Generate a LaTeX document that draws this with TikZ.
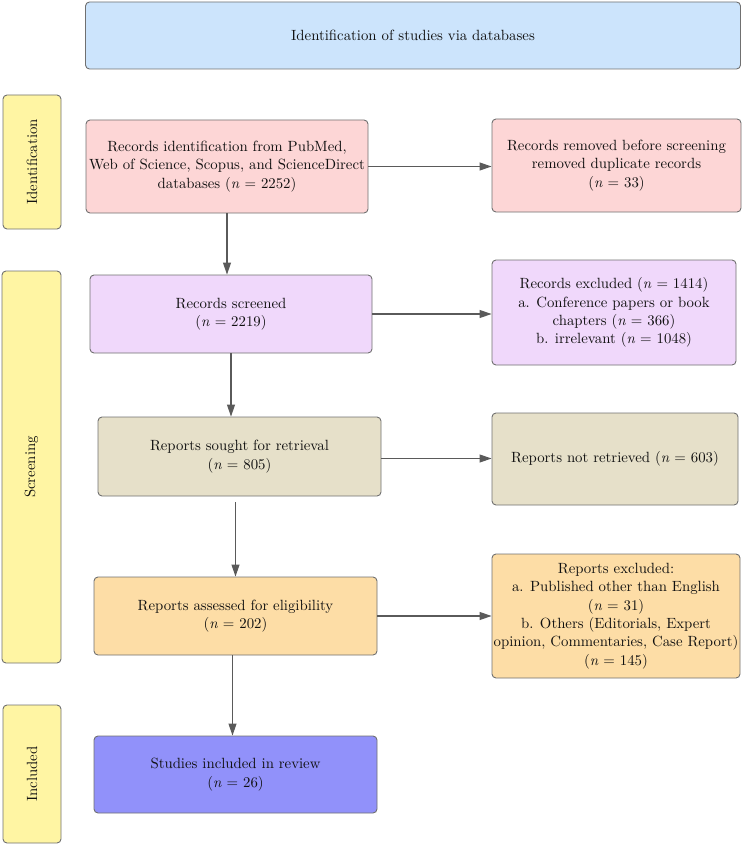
\documentclass[tikz,border=0pt]{standalone}
\usepackage{fontspec}
\setmainfont{lmroman10-regular}[Extension=.otf, ItalicFont=lmroman10-italic, BoldFont=lmroman10-bold]
\usetikzlibrary{arrows.meta}

\definecolor{headblue}{HTML}{CCE4FC}
\definecolor{phaseyellow}{HTML}{FFF5A3}
\definecolor{idpink}{HTML}{FDD6D6}
\definecolor{screenpurple}{HTML}{F0D8FB}
\definecolor{soughtbeige}{HTML}{E6E0C9}
\definecolor{assessorange}{HTML}{FDDDA6}
\definecolor{inclblue}{HTML}{9191FA}
\definecolor{boxline}{HTML}{707070}
\definecolor{arrowgray}{HTML}{5A5A5A}
\definecolor{textcol}{HTML}{101010}

\tikzset{
    stage/.style={draw=boxline, line width=0.9pt, rounded corners=4pt,
        align=center, inner sep=0pt, text=textcol,
        font=\fontsize{14.8}{18.3}\selectfont},
    phase/.style={stage, fill=phaseyellow, rotate=90},
    flow/.style={-{Triangle[length=12pt,width=8pt]}, draw=arrowgray, line width=1.1pt},
}

\begin{document}
\begin{tikzpicture}[x=1pt, y=-1pt]
        \useasboundingbox (0,0) rectangle (742,845);

        \node[stage, fill=headblue, minimum width=655, minimum height=67] (head) at (413,35.5)
            {Identification of studies via databases};

        \node[phase, minimum width=134, minimum height=58] (ident) at (32,162) {Identification};
        \node[phase, minimum width=392, minimum height=59] (screen) at (31.5,467) {Screening};
        \node[phase, minimum width=138, minimum height=58] (incl) at (32,774) {Included};

        \node[stage, fill=idpink, minimum width=282, minimum height=93] (found) at (227,166.5)
            {Records identification from PubMed,\\Web of Science, Scopus, and ScienceDirect\\databases (\textit{n} = 2252)};
        \node[stage, fill=idpink, minimum width=249, minimum height=93] (dupl) at (616.5,165.5)
            {Records removed before screening\\removed duplicate records\\(\textit{n} = 33)};

        \node[stage, fill=screenpurple, minimum width=282, minimum height=78] (screened) at (231,314)
            {Records screened\\(\textit{n} = 2219)};
        \node[stage, fill=screenpurple, minimum width=244, minimum height=105] (excl) at (614,312.5)
            {Records excluded (\textit{n} = 1414)\\a. Conference papers or book\\chapters (\textit{n} = 366)\\b. irrelevant (\textit{n} = 1048)};

        \node[stage, fill=soughtbeige, minimum width=283, minimum height=79] (sought) at (239.5,456.5)
            {Reports sought for retrieval\\(\textit{n} = 805)};
        \node[stage, fill=soughtbeige, minimum width=246, minimum height=92] (notret) at (615,459)
            {Reports not retrieved (\textit{n} = 603)};

        \node[stage, fill=assessorange, minimum width=283, minimum height=78] (assessed) at (235.5,616)
            {Reports assessed for eligibility\\(\textit{n} = 202)};
        \node[stage, fill=assessorange, minimum width=248, minimum height=124] (rexcl) at (616,616)
            {Reports excluded:\\a. Published other than English\\(\textit{n} = 31)\\b. Others (Editorials, Expert\\opinion, Commentaries, Case Report)\\(\textit{n} = 145)};

        \node[stage, fill=inclblue, minimum width=283, minimum height=77] (studies) at (235.5,774.5)
            {Studies included in review\\(\textit{n} = 26)};

        \draw[flow] (found.east) -- (found.east -| dupl.west);
        \draw[flow] (found.south) -- (found.south |- screened.north);
        \draw[flow] (screened.east) -- (screened.east -| excl.west);
        \draw[flow] (screened.south) -- (screened.south |- sought.north);
        \draw[flow] ([yshift=-2]sought.east) -- ([yshift=-2]sought.east -| notret.west);
        \draw[flow, shorten <=6pt] (sought.south -| assessed.north) -- (assessed.north);
        \draw[flow] (assessed.east) -- (assessed.east -| rexcl.west);
        \draw[flow] ([xshift=-3]assessed.south) -- ([xshift=-3]studies.north);
    \end{tikzpicture}
\end{document}
